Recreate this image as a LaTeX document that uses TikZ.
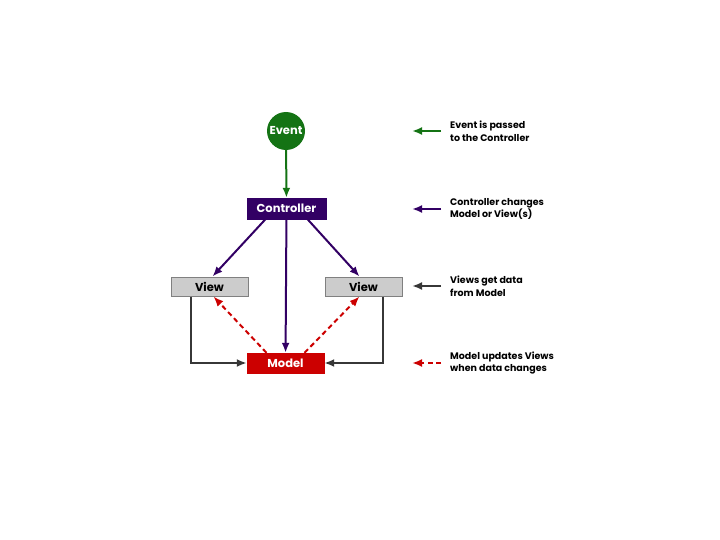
\documentclass[tikz,border=0pt]{standalone}
\usepackage{fontspec}
\setmainfont{Poppins}
\usetikzlibrary{positioning,arrows.meta}
\definecolor{evgreen}{RGB}{20,115,20}
\definecolor{ctrlpurple}{RGB}{50,0,100}
\definecolor{viewgray}{RGB}{204,204,204}
\definecolor{linegray}{RGB}{55,55,55}
\definecolor{modelred}{RGB}{204,0,0}
\tikzset{
  tip/.style={-{Latex[length=10pt, width=8pt]}},
  greenflow/.style={tip, line width=2pt, draw=evgreen, evgreen},
  purpleflow/.style={tip, line width=2pt, draw=ctrlpurple, ctrlpurple},
  grayflow/.style={tip, line width=2pt, draw=linegray, linegray},
  redflow/.style={tip, line width=2pt, dash pattern=on 5pt off 3.5pt, draw=modelred, modelred},
  eventnode/.style={circle, fill=evgreen, text=white, minimum size=38pt, inner sep=0pt, font=\bfseries\fontsize{11.5}{13}\selectfont},
  ctrlbox/.style={draw=ctrlpurple, fill=ctrlpurple, text=white, minimum width=79pt, minimum height=21pt, inner sep=0pt, font=\bfseries\fontsize{11.5}{13}\selectfont},
  viewbox/.style={draw=gray, line width=1pt, fill=viewgray, text=black, minimum width=77pt, minimum height=19pt, inner sep=0pt, font=\bfseries\fontsize{11.5}{13}\selectfont},
  modelbox/.style={draw=modelred, fill=modelred, text=white, minimum width=77pt, minimum height=20pt, inner sep=0pt, font=\bfseries\fontsize{11.5}{13}\selectfont},
  legend/.style={anchor=west, align=left, inner sep=0pt, font=\bfseries\fontsize{9.5}{12.5}\selectfont}
}
\begin{document}
\begin{tikzpicture}[x=1pt, y=-1pt]
  \useasboundingbox (0,0) rectangle (720,540);
  % main diagram
  \node[eventnode] (event) at (286,131) {Event};
  \node[ctrlbox] (ctrl) at (286.5,208.5) {Controller};
  \node[viewbox] (lview) at (209.5,286.5) {View};
  \node[viewbox] (rview) at (363.5,286.5) {View};
  \node[modelbox] (model) at (285.5,363) {Model};
  \draw[greenflow] (event) -- (ctrl);
  \draw[purpleflow] ([xshift=-21pt]ctrl.south) -- ([xshift=3pt]lview.north);
  \draw[purpleflow] ([xshift=21pt]ctrl.south) -- ([xshift=-4pt]rview.north);
  \draw[purpleflow] (ctrl) -- (model);
  \draw[redflow] ([xshift=-19pt]model.north) -- ([xshift=4pt]lview.south);
  \draw[redflow] ([xshift=19pt]model.north) -- ([xshift=-4pt]rview.south);
  \draw[grayflow] ([xshift=-19pt]lview.south) |- (model.west);
  \draw[grayflow] ([xshift=19pt]rview.south) |- (model.east);
  % legend
  \node[legend] (lg1) at (450,131) {Event is passed\\to the Controller};
  \node[legend] (lg2) at (450,209) {Controller changes\\Model or View(s)};
  \node[legend] (lg3) at (450,286) {Views get data\\from Model};
  \node[legend] (lg4) at (450,363) {Model updates Views\\when data changes};
  \coordinate (tip1) at (412,131);
  \coordinate (tip2) at (412,209);
  \coordinate (tip3) at (412,286);
  \coordinate (tip4) at (412,363);
  \draw[greenflow] ([xshift=-9pt]lg1.west) -- (tip1);
  \draw[purpleflow] ([xshift=-9pt]lg2.west) -- (tip2);
  \draw[grayflow] ([xshift=-9pt]lg3.west) -- (tip3);
  \draw[redflow] ([xshift=-9pt]lg4.west) -- (tip4);
\end{tikzpicture}
\end{document}
